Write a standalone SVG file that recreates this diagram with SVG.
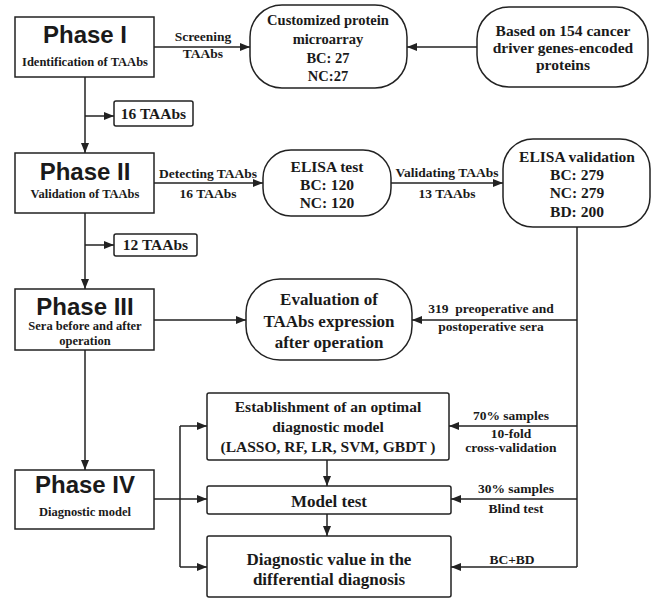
<svg xmlns="http://www.w3.org/2000/svg" width="654" height="600" viewBox="0 0 654 600">
<defs>
<marker id="ah" markerUnits="userSpaceOnUse" markerWidth="10" markerHeight="8" refX="10" refY="4" orient="auto">
<path d="M0,0 L10,4 L0,8 z" fill="#222"/>
</marker>
<style>
.box{fill:#fff;stroke:#222;stroke-width:1.5}
.ln{fill:none;stroke:#222;stroke-width:1.5}
.ar{fill:none;stroke:#222;stroke-width:1.5;marker-end:url(#ah)}
.ph{font-family:"Liberation Sans",Arial,sans-serif;font-weight:bold;font-size:24px;fill:#1a1a1a;text-anchor:middle}
.t{font-family:"Liberation Serif","Times New Roman",serif;font-weight:bold;fill:#1a1a1a;text-anchor:middle}
.s12{font-size:12.5px}
.s13{font-size:13.5px}
.s14{font-size:14.5px}
.s15{font-size:15.5px}
.s17{font-size:17px}
</style>
</defs>
<rect width="654" height="600" fill="#fff"/>
<g id="connectors">
<path class="ar" d="M85,77 V153"/>
<path class="ar" d="M85,116 H114"/>
<path class="ar" d="M85,213 V289"/>
<path class="ar" d="M85,245 H114"/>
<path class="ar" d="M85,350 V470"/>
<path class="ar" d="M154,47 H250"/>
<path class="ar" d="M477,47 H407"/>
<path class="ar" d="M154,183 H263"/>
<path class="ar" d="M391,183 H503"/>
<path class="ar" d="M154,320 H246"/>
<path class="ln" d="M577,227 V567"/>
<path class="ar" d="M577,320 H412"/>
<path class="ar" d="M577,426 H449"/>
<path class="ar" d="M577,499 H451"/>
<path class="ar" d="M577,567 H451"/>
<path class="ar" d="M154,499 H207"/>
<path class="ln" d="M180,426 V567"/>
<path class="ar" d="M180,426 H207"/>
<path class="ar" d="M180,567 H207"/>
<path class="ar" d="M327,460 V486"/>
<path class="ar" d="M327,514 V536"/>
<text class="t s13" x="203" y="41">Screening</text>
<text class="t s13" x="203" y="58">TAAbs</text>
<text class="t s13" x="208" y="178">Detecting TAAbs</text>
<text class="t s13" x="208" y="198">16 TAAbs</text>
<text class="t s13" x="447" y="177">Validating TAAbs</text>
<text class="t s13" x="447" y="198">13 TAAbs</text>
<text class="t s13" x="491" y="313" xml:space="preserve">319  preoperative and</text>
<text class="t s13" x="491" y="331">postoperative sera</text>
<text class="t s13" x="511" y="420">70% samples</text>
<text class="t s13" x="511" y="438">10-fold</text>
<text class="t s13" x="511" y="452">cross-validation</text>
<text class="t s13" x="516" y="493">30% samples</text>
<text class="t s13" x="516" y="513">Blind test</text>
<text class="t s13" x="512" y="564">BC+BD</text>
</g>
<g id="phase1">
<rect class="box" x="15" y="17" width="139" height="60"/>
<text class="ph" x="85" y="43">Phase I</text>
<text class="t s12" x="85" y="66">Identification of TAAbs</text>
</g>
<g id="taabs16">
<rect class="box" x="114" y="101" width="79" height="25" rx="2"/>
<text class="t s15" x="153.5" y="119">16 TAAbs</text>
</g>
<g id="microarray">
<rect class="box" x="250" y="5" width="157" height="83" rx="32"/>
<text class="t s14" x="328" y="25">Customized protein</text>
<text class="t s14" x="328" y="44">microarray</text>
<text class="t s14" x="328" y="63">BC: 27</text>
<text class="t s14" x="328" y="81">NC:27</text>
</g>
<g id="drivers">
<rect class="box" x="477" y="7" width="171" height="80" rx="32"/>
<text class="t s15" x="563" y="36">Based on 154 cancer</text>
<text class="t s15" x="563" y="53">driver genes-encoded</text>
<text class="t s15" x="563" y="70">proteins</text>
</g>
<g id="phase2">
<rect class="box" x="15" y="153" width="139" height="60"/>
<text class="ph" x="85" y="180">Phase II</text>
<text class="t s12" x="85" y="198">Validation of TAAbs</text>
</g>
<g id="elisatest">
<rect class="box" x="263" y="150" width="128" height="66" rx="28"/>
<text class="t s15" x="327" y="172">ELISA test</text>
<text class="t s15" x="327" y="190">BC: 120</text>
<text class="t s15" x="327" y="208">NC: 120</text>
</g>
<g id="elisaval">
<rect class="box" x="503" y="139" width="147" height="88" rx="30"/>
<text class="t s15" x="577" y="162">ELISA validation</text>
<text class="t s15" x="577" y="180">BC: 279</text>
<text class="t s15" x="577" y="198">NC: 279</text>
<text class="t s15" x="577" y="217">BD: 200</text>
</g>
<g id="taabs12">
<rect class="box" x="114" y="234" width="83" height="22" rx="2"/>
<text class="t s15" x="155.5" y="250">12 TAAbs</text>
</g>
<g id="phase3">
<rect class="box" x="15" y="289" width="139" height="61"/>
<text class="ph" x="85" y="315">Phase III</text>
<text class="t s12" x="85" y="330">Sera before and after</text>
<text class="t s12" x="85" y="345">operation</text>
</g>
<g id="evaluation">
<rect class="box" x="246" y="279" width="166" height="81" rx="34"/>
<text class="t s17" x="329" y="305">Evaluation of</text>
<text class="t s17" x="329" y="327">TAAbs expression</text>
<text class="t s17" x="329" y="348">after operation</text>
</g>
<g id="establishment">
<rect class="box" x="207" y="393" width="242" height="67" rx="2"/>
<text class="t s15" x="328" y="412">Establishment of an optimal</text>
<text class="t s15" x="328" y="432">diagnostic model</text>
<text class="t s15" x="328" y="452">(LASSO, RF, LR, SVM, GBDT )</text>
</g>
<g id="phase4">
<rect class="box" x="15" y="470" width="139" height="59"/>
<text class="ph" x="85" y="493">Phase IV</text>
<text class="t s12" x="85" y="516">Diagnostic model</text>
</g>
<g id="modeltest">
<rect class="box" x="207" y="486" width="244" height="28" rx="2"/>
<text class="t s17" x="329" y="507">Model test</text>
</g>
<g id="diagvalue">
<rect class="box" x="207" y="536" width="244" height="61" rx="2"/>
<text class="t s17" x="329" y="565">Diagnostic value in the</text>
<text class="t s17" x="329" y="585">differential diagnosis</text>
</g>
</svg>
